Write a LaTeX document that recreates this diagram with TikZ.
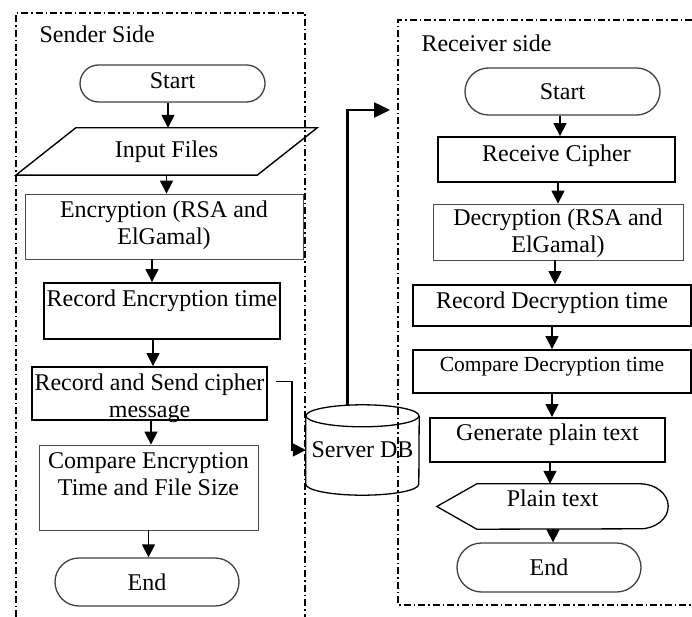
\documentclass[tikz,border=0pt]{standalone}
\usepackage{fontspec}
\setmainfont{Liberation Serif}
\usetikzlibrary{shapes.misc,arrows.meta}
\begin{document}
\begin{tikzpicture}[x=1pt,y=1pt,
	  font=\fontsize{24}{27}\selectfont,
	  terminal/.style={rounded rectangle,draw=black!75,line width=1.3pt,inner sep=0pt},
	  thinbox/.style={rectangle,draw=black!70,line width=0.8pt,inner sep=0pt,align=center},
	  thickbox/.style={rectangle,draw,line width=1.8pt,inner sep=0pt,align=center},
	  arr/.style={-{Triangle[length=13pt,width=13pt]},line width=1.4pt},
	  sidebox/.style={dash pattern=on 7pt off 3pt on 1.5pt off 3pt,line width=1.1pt}]
	  \def\CylRy{11pt}
	  \def\CylRx{56.5pt}
	  \def\Slant{30pt}
	  \useasboundingbox (0,0) rectangle (692,-617);
	  \draw[sidebox] (16,-617) -- (16,-13) -- (305,-13) -- (305,-617);
	  \draw[sidebox] (692,-20) -- (398,-20) -- (398,-605) -- (692,-605);
	  \node[anchor=base west] (sendLbl) at (36,-43) {Sender Side};
	  \node[anchor=base west] (recvLbl) at (418,-52) {Receiver side};
	  \node[terminal,minimum width=185pt,minimum height=37pt,text depth=6pt] (startS) at (172.5,-83.5) {Start};
	  \node[inner sep=0pt,minimum width=241pt,minimum height=47pt] (input) at (166.5,-151.5) {Input Files};
	  \draw[line width=1.4pt] ([xshift=\Slant]input.north west) -- ([xshift=\Slant]input.north east)
	    -- ([xshift=-\Slant]input.south east) -- ([xshift=-\Slant]input.south west) -- cycle;
	  \node[thinbox,minimum width=278pt,minimum height=65pt,text height=45pt,text depth=10pt] (enc) at (164,-226.5) {Encryption (RSA and\\ElGamal)};
	  \node[thickbox,minimum width=236pt,minimum height=56pt,text height=20pt,text depth=28.6pt] (recenc) at (162,-311) {Record Encryption time};
	  \node[thickbox,minimum width=235pt,minimum height=53pt,text height=50pt,text depth=2.4pt] (send) at (149.5,-393.5) {Record and Send cipher\\message};
	  \node[thinbox,minimum width=219pt,minimum height=85pt,text height=45pt,text depth=30pt] (cmpenc) at (148.5,-487.5) {Compare Encryption\\Time and File Size};
	  \node[terminal,minimum width=184pt,minimum height=48pt] (endS) at (147,-582) {End};
	  \node[terminal,minimum width=195pt,minimum height=47pt] (startR) at (562.5,-91.5) {Start};
	  \node[thickbox,minimum width=237pt,minimum height=45pt,text height=20pt,text depth=15.6pt] (rcv) at (556.5,-159.5) {Receive Cipher};
	  \node[thinbox,minimum width=250pt,minimum height=56pt,text height=48pt,text depth=6pt] (dec) at (558,-232) {Decryption (RSA and\\ElGamal)};
	  \node[thickbox,minimum width=278pt,minimum height=41pt,text height=20pt,text depth=14.4pt] (recdec) at (552,-305.5) {Record Decryption time};
	  \node[thickbox,minimum width=278pt,minimum height=43pt,font=\fontsize{21.5}{24}\selectfont,
	    text height=17pt,text depth=16.6pt] (cmpdec) at (552,-371.5) {Compare Decryption time};
	  \node[thickbox,minimum width=235pt,minimum height=44pt,text height=17pt,text depth=17pt] (gen) at (547.5,-440) {Generate plain text};
	  \node[inner sep=0pt,minimum width=231pt,minimum height=45pt,text height=17pt,text depth=17pt] (plain) at (552.5,-506.5) {Plain text};
	  \draw[line width=1.3pt] (plain.west) -- ([xshift=40pt]plain.north west)
	    -- ([xshift=-28pt]plain.north east)
	    arc[start angle=90,end angle=-90,x radius=28pt,y radius=22.5pt]
	    -- ([xshift=40pt]plain.south west) -- cycle;
	  \node[terminal,minimum width=184pt,minimum height=49pt] (endR) at (549,-567.5) {End};
	  \node[inner sep=0pt,minimum width=113pt,minimum height=90pt] (db) at (362.5,-450) {Server DB};
	  \draw[line width=1.3pt] ([yshift=-\CylRy]db.north) ellipse[x radius=\CylRx,y radius=\CylRy];
	  \draw[line width=1.3pt] ([yshift=-\CylRy]db.north west) -- ([yshift=\CylRy]db.south west)
	    arc[start angle=180,end angle=360,x radius=\CylRx,y radius=\CylRy]
	    -- ([yshift=-\CylRy]db.north east);
	  \coordinate (rcvin) at (390,-110);
	  \foreach \a/\b/\dx in {startS/input/-4.5,input/enc/0,enc/recenc/-12,recenc/send/-9,
	      send/cmpenc/1.5,cmpenc/endS/0,startR/rcv/-2.5,rcv/dec/1.5,dec/recdec/-3,
	      recdec/cmpdec/0,cmpdec/gen/0,gen/plain/2.5,plain/endR/0.5}
	    \draw[arr] ([xshift=\dx pt]\a.south) -- ([xshift=\dx pt]\a.south |- \b.north);
	  \draw[arr] ([shift={(8pt,12pt)}]send.east) -| ([xshift=-14pt]db.west) -- (db.west);
	  \draw[line width=2.5pt,-{Triangle[length=16pt,width=15pt]}] ([xshift=-15pt]db.north) |- (rcvin);
\end{tikzpicture}
\end{document}
